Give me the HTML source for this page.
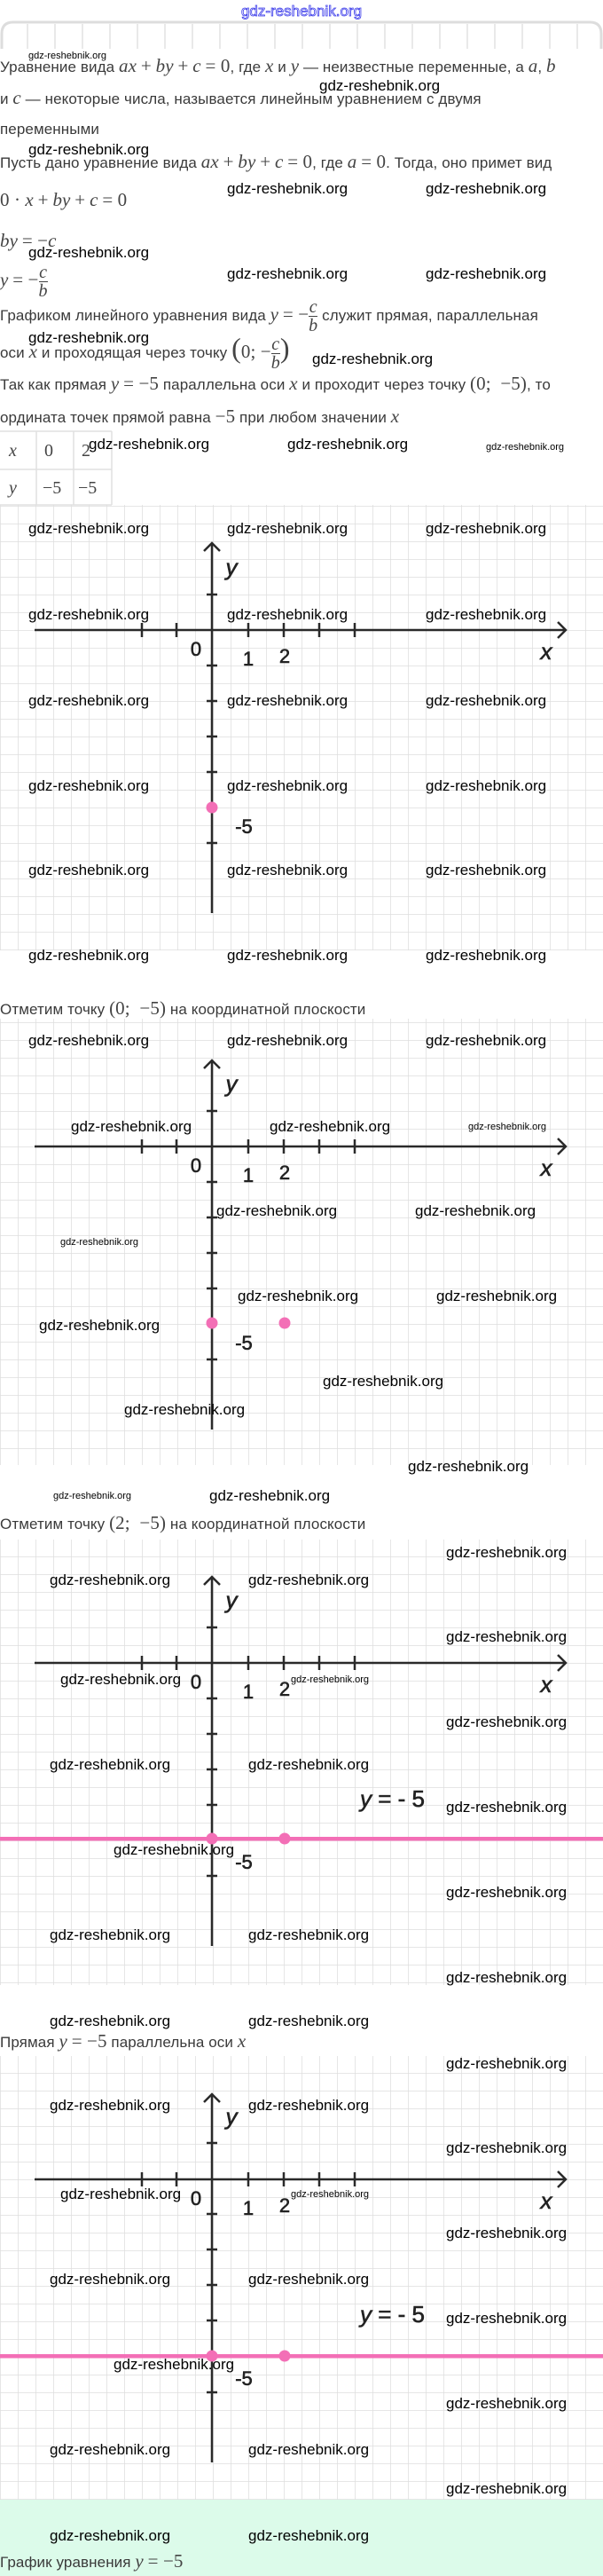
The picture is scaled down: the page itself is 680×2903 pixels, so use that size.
<!DOCTYPE html>
<html><head><meta charset="utf-8">
<style>
html,body{margin:0;padding:0;background:#fff;}
body{width:680px;height:2903px;position:relative;overflow:hidden;font-family:"Liberation Sans",sans-serif;}
.t{position:absolute;left:0;white-space:nowrap;font-size:17px;color:#3a3a3a;line-height:22px;letter-spacing:0.1px;}
.m{font-family:"Liberation Serif",serif;font-style:italic;font-size:21px;color:#444;}
.n{font-family:"Liberation Serif",serif;font-size:21px;color:#444;}
.fr{display:inline-flex;flex-direction:column;vertical-align:middle;text-align:center;font-family:"Liberation Serif",serif;font-style:italic;font-size:20px;line-height:20px;color:#444;}
.fr span:first-child{border-bottom:1px solid #444;}
svg{position:absolute;left:0;top:0;}
</style></head><body>
<svg width="680" height="2903" xmlns="http://www.w3.org/2000/svg">
<defs>
<pattern id="g" patternUnits="userSpaceOnUse" x="0" y="0" width="20" height="20">
<path d="M0 0H20M0 0V20" stroke="#dedede" stroke-width="1.5" fill="none"/>
</pattern>
</defs>
<rect x="0" y="2817" width="680" height="86" fill="#dcfbea"/>
<path d="M2 55V38Q2 25 15 25H665Q678 25 678 38V55" fill="none" stroke="#ddd" stroke-width="3"/>
<path d="M31 27V55M62 27V55M93 27V55M124 27V55M155 27V55M186 27V55M217 27V55M248 27V55M279 27V55M310 27V55M341 27V55M372 27V55M403 27V55M434 27V55M465 27V55M496 27V55M527 27V55M558 27V55M589 27V55M620 27V55M651 27V55" stroke="#e2e2e2" stroke-width="1.5"/>
<text x="340" y="18" text-anchor="middle" font-size="17" fill="#fff" stroke="#3b3bea" stroke-width="0.8" font-family="Liberation Sans">gdz-reshebnik.org</text>
<path d="M0 486H126M0 529H126M0 569H126M41 486V569M83 486V569M126 486V569" stroke="#e0e0e0" stroke-width="1.5"/>
<g font-family="Liberation Serif" font-size="20" fill="#444">
<text x="10" y="514" font-style="italic">x</text><text x="50" y="514">0</text><text x="92" y="514">2</text>
<text x="10" y="556" font-style="italic">y</text><text x="48" y="556">−5</text><text x="88" y="556">−5</text>
</g>

<g transform="translate(0,710)">
<rect x="0" y="-141" width="680" height="502" fill="url(#g)"/>
<path d="M39 0H638M629 -9L638 0L629 9M239 -98V319M230 -89L239 -98L248 -89" stroke="#2a2a2a" stroke-width="2.5" fill="none"/>
<path d="M160 -8V8M199 -8V8M280 -8V8M320 -8V8M360 -8V8M400 -8V8M233 -40H245M233 40H245M233 80H245M233 120H245M233 160H245M233 240H245" stroke="#2a2a2a" stroke-width="2.5"/>
<g font-family="Liberation Sans" fill="#222" stroke="#222" stroke-width="0.6">
<text x="221" y="29" text-anchor="middle" font-size="22">0</text>
<text x="280" y="40" text-anchor="middle" font-size="22">1</text>
<text x="321" y="37" text-anchor="middle" font-size="22">2</text>
<text x="616" y="33" text-anchor="middle" font-size="26" font-style="italic">x</text>
<text x="261" y="-62" text-anchor="middle" font-size="26" font-style="italic">y</text>
<text x="275" y="229" text-anchor="middle" font-size="22">-5</text>
</g>
<circle cx="239" cy="200" r="6.5" fill="#f36fb6"/>
</g>

<g transform="translate(0,1292)">
<rect x="0" y="-144" width="680" height="503" fill="url(#g)"/>
<path d="M39 0H638M629 -9L638 0L629 9M239 -97V319M230 -88L239 -97L248 -88" stroke="#2a2a2a" stroke-width="2.5" fill="none"/>
<path d="M160 -8V8M199 -8V8M280 -8V8M320 -8V8M360 -8V8M400 -8V8M233 -40H245M233 40H245M233 80H245M233 120H245M233 160H245M233 240H245" stroke="#2a2a2a" stroke-width="2.5"/>
<g font-family="Liberation Sans" fill="#222" stroke="#222" stroke-width="0.6">
<text x="221" y="29" text-anchor="middle" font-size="22">0</text>
<text x="280" y="40" text-anchor="middle" font-size="22">1</text>
<text x="321" y="37" text-anchor="middle" font-size="22">2</text>
<text x="616" y="33" text-anchor="middle" font-size="26" font-style="italic">x</text>
<text x="261" y="-62" text-anchor="middle" font-size="26" font-style="italic">y</text>
<text x="275" y="229" text-anchor="middle" font-size="22">-5</text>
</g>
<circle cx="239" cy="199" r="6.5" fill="#f36fb6"/>
<circle cx="321" cy="199" r="6.5" fill="#f36fb6"/>
</g>

<g transform="translate(0,1874)">
<rect x="0" y="-139" width="680" height="502" fill="url(#g)"/>
<path d="M39 0H638M629 -9L638 0L629 9M239 -97V319M230 -88L239 -97L248 -88" stroke="#2a2a2a" stroke-width="2.5" fill="none"/>
<path d="M160 -8V8M199 -8V8M280 -8V8M320 -8V8M360 -8V8M400 -8V8M233 -40H245M233 40H245M233 80H245M233 120H245M233 160H245M233 240H245" stroke="#2a2a2a" stroke-width="2.5"/>
<rect x="0" y="196" width="680" height="4.5" fill="#f36fb6"/>
<g font-family="Liberation Sans" fill="#222" stroke="#222" stroke-width="0.6">
<text x="221" y="29" text-anchor="middle" font-size="22">0</text>
<text x="280" y="40" text-anchor="middle" font-size="22">1</text>
<text x="321" y="37" text-anchor="middle" font-size="22">2</text>
<text x="616" y="33" text-anchor="middle" font-size="26" font-style="italic">x</text>
<text x="261" y="-62" text-anchor="middle" font-size="26" font-style="italic">y</text>
<text x="275" y="232" text-anchor="middle" font-size="22">-5</text>
<text x="406" y="162" font-size="26"><tspan font-style="italic">y</tspan> = - 5</text>
</g>
<circle cx="239" cy="198" r="6.5" fill="#f36fb6"/>
<circle cx="321" cy="198" r="6.5" fill="#f36fb6"/>
</g>

<g transform="translate(0,2456)">
<rect x="0" y="-139" width="680" height="500" fill="url(#g)"/>
<path d="M39 0H638M629 -9L638 0L629 9M239 -96V319M230 -87L239 -96L248 -87" stroke="#2a2a2a" stroke-width="2.5" fill="none"/>
<path d="M160 -8V8M199 -8V8M280 -8V8M320 -8V8M360 -8V8M400 -8V8M233 -41H245M233 39H245M233 79H245M233 119H245M233 159H245M233 240H245" stroke="#2a2a2a" stroke-width="2.5"/>
<rect x="0" y="197" width="680" height="4.5" fill="#f36fb6"/>
<g font-family="Liberation Sans" fill="#222" stroke="#222" stroke-width="0.6">
<text x="221" y="29" text-anchor="middle" font-size="22">0</text>
<text x="280" y="40" text-anchor="middle" font-size="22">1</text>
<text x="321" y="37" text-anchor="middle" font-size="22">2</text>
<text x="616" y="33" text-anchor="middle" font-size="26" font-style="italic">x</text>
<text x="261" y="-62" text-anchor="middle" font-size="26" font-style="italic">y</text>
<text x="275" y="232" text-anchor="middle" font-size="22">-5</text>
<text x="406" y="161" font-size="26"><tspan font-style="italic">y</tspan> = - 5</text>
</g>
<circle cx="239" cy="199" r="6.5" fill="#f36fb6"/>
<circle cx="321" cy="199" r="6.5" fill="#f36fb6"/>
</g>

<g font-family="Liberation Sans" font-size="17" fill="#000">
<text x="360" y="102">gdz-reshebnik.org</text>
<text x="32" y="174">gdz-reshebnik.org</text>
<text x="256" y="218">gdz-reshebnik.org</text><text x="480" y="218">gdz-reshebnik.org</text>
<text x="32" y="290">gdz-reshebnik.org</text>
<text x="256" y="314">gdz-reshebnik.org</text><text x="480" y="314">gdz-reshebnik.org</text>
<text x="32" y="386">gdz-reshebnik.org</text>
<text x="352" y="410">gdz-reshebnik.org</text>
<text x="100" y="506">gdz-reshebnik.org</text><text x="324" y="506">gdz-reshebnik.org</text>
<text x="32" y="601">gdz-reshebnik.org</text><text x="256" y="601">gdz-reshebnik.org</text><text x="480" y="601">gdz-reshebnik.org</text>
<text x="32" y="698">gdz-reshebnik.org</text><text x="256" y="698">gdz-reshebnik.org</text><text x="480" y="698">gdz-reshebnik.org</text>
<text x="32" y="795">gdz-reshebnik.org</text><text x="256" y="795">gdz-reshebnik.org</text><text x="480" y="795">gdz-reshebnik.org</text>
<text x="32" y="891">gdz-reshebnik.org</text><text x="256" y="891">gdz-reshebnik.org</text><text x="480" y="891">gdz-reshebnik.org</text>
<text x="32" y="986">gdz-reshebnik.org</text><text x="256" y="986">gdz-reshebnik.org</text><text x="480" y="986">gdz-reshebnik.org</text>
<text x="32" y="1082">gdz-reshebnik.org</text><text x="256" y="1082">gdz-reshebnik.org</text><text x="480" y="1082">gdz-reshebnik.org</text>
<text x="32" y="1178">gdz-reshebnik.org</text><text x="256" y="1178">gdz-reshebnik.org</text><text x="480" y="1178">gdz-reshebnik.org</text>
<text x="80" y="1275">gdz-reshebnik.org</text><text x="304" y="1275">gdz-reshebnik.org</text>
<text x="244" y="1370">gdz-reshebnik.org</text><text x="468" y="1370">gdz-reshebnik.org</text>
<text x="268" y="1466">gdz-reshebnik.org</text><text x="492" y="1466">gdz-reshebnik.org</text>
<text x="44" y="1499">gdz-reshebnik.org</text>
<text x="364" y="1562">gdz-reshebnik.org</text>
<text x="140" y="1594">gdz-reshebnik.org</text>
<text x="460" y="1658">gdz-reshebnik.org</text>
<text x="236" y="1691">gdz-reshebnik.org</text>
<text x="503" y="1755">gdz-reshebnik.org</text>
<text x="56" y="1786">gdz-reshebnik.org</text><text x="280" y="1786">gdz-reshebnik.org</text>
<text x="503" y="1850">gdz-reshebnik.org</text>
<text x="68" y="1898">gdz-reshebnik.org</text>
<text x="503" y="1946">gdz-reshebnik.org</text>
<text x="56" y="1994">gdz-reshebnik.org</text><text x="280" y="1994">gdz-reshebnik.org</text>
<text x="503" y="2042">gdz-reshebnik.org</text>
<text x="128" y="2090">gdz-reshebnik.org</text>
<text x="503" y="2138">gdz-reshebnik.org</text>
<text x="56" y="2186">gdz-reshebnik.org</text><text x="280" y="2186">gdz-reshebnik.org</text>
<text x="503" y="2234">gdz-reshebnik.org</text>
<text x="56" y="2283">gdz-reshebnik.org</text><text x="280" y="2283">gdz-reshebnik.org</text>
<text x="503" y="2331">gdz-reshebnik.org</text>
<text x="56" y="2378">gdz-reshebnik.org</text><text x="280" y="2378">gdz-reshebnik.org</text>
<text x="503" y="2426">gdz-reshebnik.org</text>
<text x="68" y="2478">gdz-reshebnik.org</text>
<text x="503" y="2522">gdz-reshebnik.org</text>
<text x="56" y="2574">gdz-reshebnik.org</text><text x="280" y="2574">gdz-reshebnik.org</text>
<text x="503" y="2618">gdz-reshebnik.org</text>
<text x="128" y="2670">gdz-reshebnik.org</text>
<text x="503" y="2714">gdz-reshebnik.org</text>
<text x="56" y="2766">gdz-reshebnik.org</text><text x="280" y="2766">gdz-reshebnik.org</text>
<text x="503" y="2810">gdz-reshebnik.org</text>
<text x="56" y="2863">gdz-reshebnik.org</text><text x="280" y="2863">gdz-reshebnik.org</text>
</g>
<g font-family="Liberation Sans" font-size="11" fill="#000">
<text x="32" y="66">gdz-reshebnik.org</text>
<text x="548" y="507">gdz-reshebnik.org</text>
<text x="528" y="1273">gdz-reshebnik.org</text>
<text x="68" y="1403">gdz-reshebnik.org</text>
<text x="60" y="1689">gdz-reshebnik.org</text>
<text x="328" y="1896">gdz-reshebnik.org</text>
<text x="328" y="2476">gdz-reshebnik.org</text>
</g>
</svg>

<div class="t" style="top:63px">Уравнение вида <span class="m">ax</span> <span class="n">+</span> <span class="m">by</span> <span class="n">+</span> <span class="m">c</span> <span class="n">= 0</span>, где <span class="m">x</span> и <span class="m">y</span> — неизвестные переменные, а <span class="m">a</span>, <span class="m">b</span></div>
<div class="t" style="top:99px">и <span class="m">c</span> — некоторые числа, называется линейным уравнением с двумя</div>
<div class="t" style="top:135px">переменными</div>
<div class="t" style="top:171px">Пусть дано уравнение вида <span class="m">ax</span> <span class="n">+</span> <span class="m">by</span> <span class="n">+</span> <span class="m">c</span> <span class="n">= 0</span>, где <span class="m">a</span> <span class="n">= 0</span>. Тогда, оно примет вид</div>
<div class="t" style="top:214px"><span class="n">0 · </span><span class="m">x</span> <span class="n">+</span> <span class="m">by</span> <span class="n">+</span> <span class="m">c</span> <span class="n">= 0</span></div>
<div class="t" style="top:260px"><span class="m">by</span> <span class="n">= −</span><span class="m">c</span></div>
<div class="t" style="top:297px"><span class="m">y</span> <span class="n">= −</span><span class="fr"><span>c</span><span>b</span></span></div>
<div class="t" style="top:336px">Графиком линейного уравнения вида <span class="m">y</span> <span class="n">= −</span><span class="fr"><span>c</span><span>b</span></span> служит прямая, параллельная</div>
<div class="t" style="top:378px">оси <span class="m">x</span> и проходящая через точку <span class="n" style="font-size:32px;font-style:normal">(</span><span class="n">0; −</span><span class="fr"><span>c</span><span>b</span></span><span class="n" style="font-size:32px">)</span></div>
<div class="t" style="top:421px">Так как прямая <span class="m">y</span> <span class="n">= −5</span> параллельна оси <span class="m">x</span> и проходит через точку <span class="n">(0;&nbsp; −5)</span>, то</div>
<div class="t" style="top:458px">ордината точек прямой равна <span class="n">−5</span> при любом значении <span class="m">x</span></div>
<div class="t" style="top:1125px">Отметим точку <span class="n">(0;&nbsp; −5)</span> на координатной плоскости</div>
<div class="t" style="top:1705px">Отметим точку <span class="n">(2;&nbsp; −5)</span> на координатной плоскости</div>
<div class="t" style="top:2289px">Прямая <span class="m">y</span> <span class="n">= −5</span> параллельна оси <span class="m">x</span></div>
<div class="t" style="top:2875px">График уравнения <span class="m">y</span> <span class="n">= −5</span></div>
</body></html>
